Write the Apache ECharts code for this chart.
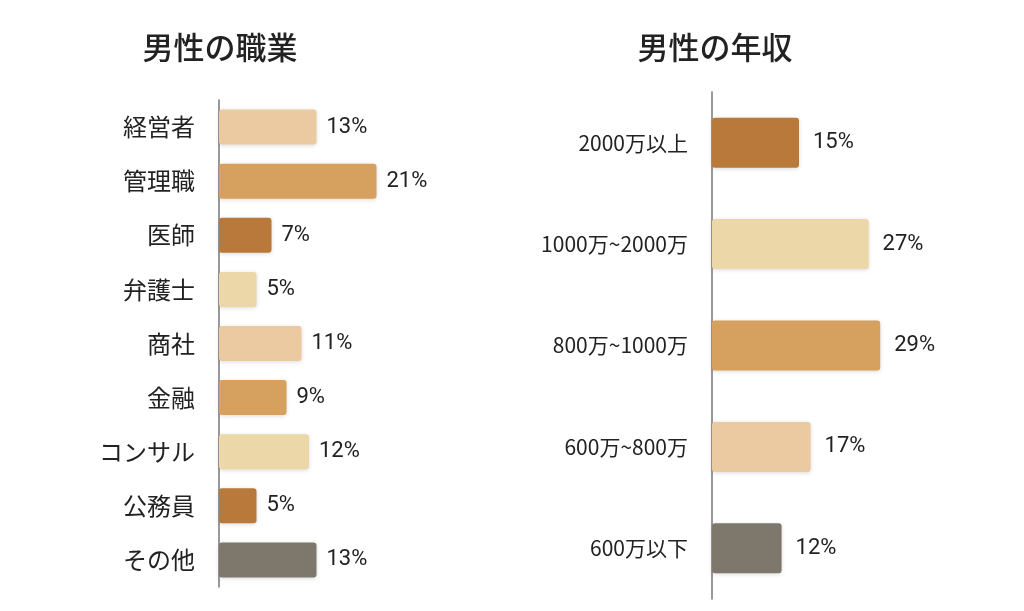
<!DOCTYPE html><html><head><meta charset="utf-8"><script src="https://cdn.jsdelivr.net/npm/echarts@6/dist/echarts.min.js"></script>
<style>html,body{margin:0;background:#fff}#c{width:1024px;height:611px}</style></head><body><div id="c"></div><script>
const jobCats=['経営者','管理職','医師','弁護士','商社','金融','コンサル','公務員','その他'];
const jobVals=[13,21,7,5,11,9,12,5,13];
const jobColors=['#ebc9a1','#d6a05e','#b9793a','#ebd7a8','#ebc9a1','#d6a05e','#ebd7a8','#b9793a','#7e776b'];
const incCats=['2000万以上','1000万~2000万','800万~1000万','600万~800万','600万以下'];
const incVals=[15,27,29,17,12];
const incColors=['#b9793a','#ebd7a8','#d6a05e','#ebc9a1','#7e776b'];
const font='"Noto Sans CJK JP", Roboto, sans-serif';
function mk(vals,cols){return vals.map((v,i)=>({value:v,itemStyle:{color:cols[i]}}));}
const ch=echarts.init(document.getElementById('c'));
const cat=(i,data,size)=>({type:'category',gridIndex:i,data,inverse:true,axisTick:{show:false},axisLine:{lineStyle:{color:'#777',width:1.5}},axisLabel:{fontSize:size,color:'#222',fontFamily:font,margin:24}});
const val=i=>({type:'value',gridIndex:i,min:0,max:30,show:false});
ch.setOption({
 title:[{text:'男性の職業',left:215,top:27,textAlign:'center',textStyle:{fontSize:31,fontWeight:500,color:'#222',fontFamily:font}},
        {text:'男性の年収',left:710,top:27,textAlign:'center',textStyle:{fontSize:31,fontWeight:500,color:'#222',fontFamily:font}}],
 grid:[{left:219,top:100,width:225,height:487},{left:712,top:92,width:174,height:507}],
 xAxis:[val(0),val(1)],
 yAxis:[cat(0,jobCats,24),cat(1,incCats,21)],
 series:[
  {type:'bar',xAxisIndex:0,yAxisIndex:0,barWidth:35,data:mk(jobVals,jobColors),itemStyle:{borderRadius:3,shadowBlur:4,shadowColor:'rgba(0,0,0,0.15)',shadowOffsetY:1},label:{show:true,position:'right',distance:10,formatter:'{c}%',fontSize:22,color:'#222',fontFamily:'Roboto'}},
  {type:'bar',xAxisIndex:1,yAxisIndex:1,barWidth:50,data:mk(incVals,incColors),itemStyle:{borderRadius:3,shadowBlur:4,shadowColor:'rgba(0,0,0,0.15)',shadowOffsetY:1},label:{show:true,position:'right',distance:14,formatter:'{c}%',fontSize:22,color:'#222',fontFamily:'Roboto'}}
 ]});
</script></body></html>
